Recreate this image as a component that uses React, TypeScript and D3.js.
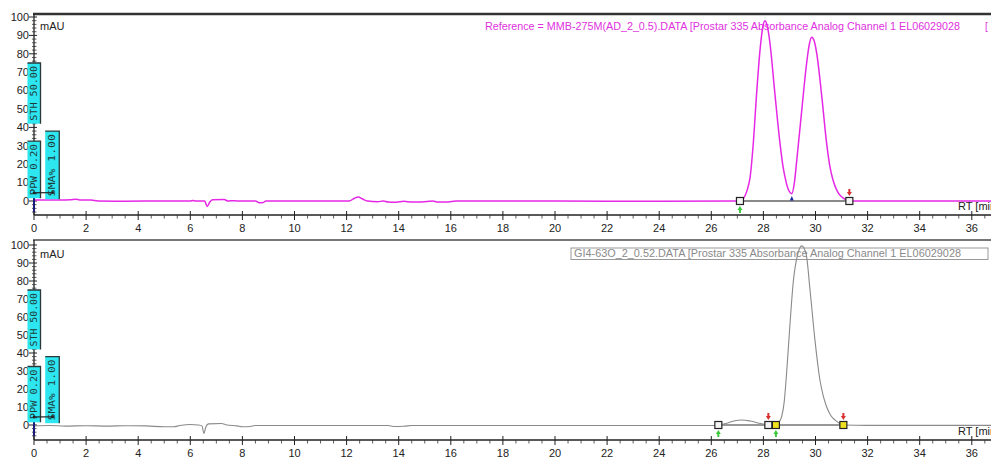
import React from "react";
import * as d3 from "d3";

// ---- data ----
const xTickValues = d3.range(0, 37, 2);
const yTickValues = d3.range(0, 101, 10);

// Top trace (reference sample), time [min] / absorbance [mAU]
const topTime = [0.0, 0.5, 1.0, 1.4, 1.6, 1.75, 2.2, 2.45, 3.5, 5.0, 6.0, 6.1, 6.2, 6.55, 6.65, 6.75, 6.85, 7.3, 7.45, 7.65, 7.8, 8.5, 8.65, 8.8, 8.9, 12.1, 12.3, 12.45, 12.6, 12.8, 13.2, 13.4, 13.6, 13.9, 14.2, 14.5, 14.9, 15.3, 15.5, 15.9, 16.2, 20, 24, 27.0, 27.17, 27.3, 27.4, 27.49, 27.61, 27.74, 27.87, 27.97, 28.06, 28.15, 28.25, 28.44, 28.64, 28.75, 28.83, 28.95, 29.09, 29.18, 29.28, 29.47, 29.66, 29.76, 29.85, 29.95, 30.05, 30.24, 30.43, 30.55, 30.68, 30.85, 31.0, 31.15, 31.32, 33, 36.9];
const topValue = [0.5, 0.6, 0.6, 0.7, 1.0, 0.6, 0.5, 0, -0.1, 0, 0, 0.3, 0, 0, -3, -0.5, 0.7, 0.8, 0, 0.2, 0, 0, -1, -0.8, 0, 0, 1.5, 2.2, 1.2, 0, -0.4, 0, -0.6, -0.7, -0.2, -0.6, -0.5, 0, -0.6, -0.5, 0, 0, -0.2, 0, 0.5, 3, 7, 13, 31, 58.5, 82, 94, 98, 95, 86, 58.5, 31, 19, 13, 6.5, 4, 9, 22, 49, 75, 85, 89, 87, 80, 57, 31, 19, 11, 5, 2.3, 0.8, 0, 0, 0];

// Bottom trace (sample GI4-63O)
const bottomTime = [0.0, 0.6, 1.2, 2.0, 2.8, 3.5, 4.3, 5.0, 5.35, 5.6, 6.0, 6.3, 6.45, 6.52, 6.6, 6.7, 7.2, 7.4, 7.8, 8.0, 8.3, 8.5, 9.5, 11, 13.6, 13.8, 14.2, 14.5, 20, 26.0, 26.27, 26.6, 26.9, 27.17, 27.5, 27.9, 28.19, 28.48, 28.6, 28.7, 28.8, 28.89, 29.02, 29.15, 29.32, 29.47, 29.64, 29.79, 29.98, 30.17, 30.3, 30.43, 30.6, 30.75, 31.07, 32, 36.9];
const bottomValue = [-0.5, -0.3, -0.6, -0.4, -0.6, -0.4, -0.5, -1, -1, -0.3, 0.3, 0, -0.5, -4.6, -1, 0.6, 0.8, 0, -0.5, -1, -0.8, -0.3, -0.3, -0.3, -0.3, -0.8, -0.7, -0.3, -0.3, -0.3, 0, 1, 2.4, 2.8, 2.2, 0.8, 0, 0, 1.5, 4.6, 13, 28.7, 56, 80, 95, 99.5, 95, 75, 47, 25, 16, 10, 5, 2.8, 0, -0.2, -0.2];

// integration events
const topSquares = [27.1, 31.3];
const topSquareYellow = [false, false];
const topStarts = [27.1];
const topEnds = [31.3];
const topValleys = [29.09];
const topBaselines = [[27.1, 31.3]];

const bottomSquares = [26.27, 28.19, 28.48, 31.07];
const bottomSquareYellow = [false, false, true, true];
const bottomStarts = [26.27, 28.48];
const bottomEnds = [28.19, 31.07];
const bottomValleys: number[] = [];
const bottomBaselines = [[26.27, 28.19], [28.48, 31.07]];

// method parameter flags (label, time from, time to, mAU from, mAU to)
const flagLabels = ["STH 50.00", "PPW 0.20", "SMA% 1.00"];
const flagTime = [[-0.25, 0.25], [-0.25, 0.25], [0.43, 0.97]];
const flagValue = [[42, 75], [1.5, 32.5], [1, 38]];

const topLegend = "Reference = MMB-275M(AD_2_0.5).DATA [Prostar 335 Absorbance Analog Channel 1 EL06029028";
const bottomLegend = "GI4-63O_2_0.52.DATA [Prostar 335 Absorbance Analog Channel 1 EL06029028";

const W = 991;
const H = 459;
const FONT = "'Liberation Sans', Arial, sans-serif";

const x = d3.scaleLinear().domain([0, 36]).range([34, 971.8]);

type PanelProps = {
  y: d3.ScaleLinear<number, number>;
  axisY: number;
  frameY: number;
  frameColor: string;
  frameWidth: number;
  times: number[];
  values: number[];
  color: string;
  lineWidth: number;
  legend: string;
  legendColor: string;
  legendX: number;
  legendW: number;
  legendY: number;
  legendBox: boolean;
  squares: number[];
  yellow: boolean[];
  starts: number[];
  ends: number[];
  valleys: number[];
  baselines: number[][];
  baselineColor: string;
  baselineWidth: number;
};

function Panel(p: PanelProps) {
  const { y } = p;
  const line = d3
    .line<number>()
    .x((_, i) => x(p.times[i]))
    .y((_, i) => y(p.values[i]))
    .curve(d3.curveMonotoneX);
  const pathD = line(p.values) || "";
  const xMinor = d3.range(0, 37, 0.5).filter((t) => t % 2 !== 0);
  const yMinor = d3.range(-6, 101, 2).filter((v) => v % 10 !== 0);
  const yBottom = y.invert(p.axisY);
  const y0 = y(0);
  return (
    <g>
      {/* frame top */}
      <line x1={33} x2={W} y1={p.frameY} y2={p.frameY} stroke={p.frameColor} strokeWidth={p.frameWidth} />
      {/* y axis */}
      <line x1={x(0)} x2={x(0)} y1={p.frameY} y2={p.axisY} stroke="#222" strokeWidth={1.3} />
      {yTickValues.map((v) => (
        <g key={"yt" + v}>
          <line x1={x(0) - 5} x2={x(0) + 3} y1={y(v)} y2={y(v)} stroke="#222" strokeWidth={1} />
          <text x={29} y={y(v) + 3.8} textAnchor="end" fontFamily={FONT} fontSize={11} fill="#222">
            {v}
          </text>
        </g>
      ))}
      {yMinor.filter((v) => v > yBottom).map((v) => (
        <line key={"ym" + v} x1={x(0) - 2} x2={x(0) + 2.5} y1={y(v)} y2={y(v)} stroke="#333" strokeWidth={0.8} />
      ))}
      <text x={40} y={y(100) + 13} fontFamily={FONT} fontSize={11} fill="#222">mAU</text>
      {/* x axis */}
      <line x1={x(0)} x2={W} y1={p.axisY} y2={p.axisY} stroke="#222" strokeWidth={1.3} />
      {xTickValues.map((t) => (
        <g key={"xt" + t}>
          <line x1={x(t)} x2={x(t)} y1={p.axisY - 4} y2={p.axisY + 5} stroke="#222" strokeWidth={1} />
          <text x={x(t)} y={p.axisY + 17} textAnchor="middle" fontFamily={FONT} fontSize={11} fill="#222">
            {t}
          </text>
        </g>
      ))}
      {xMinor.map((t) => (
        <line key={"xm" + t} x1={x(t)} x2={x(t)} y1={p.axisY} y2={p.axisY + 3.5} stroke="#333" strokeWidth={0.8} />
      ))}
      <text x={958} y={p.axisY - 5} fontFamily={FONT} fontSize={11} fill="#222">RT [min]</text>
      {/* legend */}
      {p.legendBox && (
        <rect x={p.legendX - 3} y={p.legendY - 9} width={W - p.legendX} height={11.5} fill="#fff" stroke="#999" strokeWidth={1} />
      )}
      <text
        x={p.legendX}
        y={p.legendY}
        fontFamily={FONT}
        fontSize={10}
        fill={p.legendColor}
        textLength={p.legendW}
        lengthAdjust="spacingAndGlyphs"
      >
        {p.legend}
      </text>
      {!p.legendBox && (
        <text x={985} y={p.legendY} fontFamily={FONT} fontSize={10} fill={p.legendColor}>[</text>
      )}
      {/* baselines */}
      {p.baselines.map((b, i) => (
        <line key={"bl" + i} x1={x(b[0])} x2={x(b[1])} y1={y0} y2={y0} stroke={p.baselineColor} strokeWidth={p.baselineWidth} />
      ))}
      {/* trace */}
      <path d={pathD} fill="none" stroke={p.color} strokeWidth={p.lineWidth} strokeLinejoin="round" />
      {/* start stroke */}
      <line x1={x(0)} x2={x(0)} y1={y(2)} y2={y(-6)} stroke="#1a1a7a" strokeWidth={2} />
      {/* markers */}
      {p.starts.map((t, i) => (
        <path
          key={"st" + i}
          d={`M${x(t)},${y0 + 5} L${x(t) + 2.5},${y0 + 9} L${x(t) + 1},${y0 + 9} L${x(t) + 1},${y0 + 12} L${x(t) - 1},${y0 + 12} L${x(t) - 1},${y0 + 9} L${x(t) - 2.5},${y0 + 9} Z`}
          fill="#3cc83c"
        />
      ))}
      {p.ends.map((t, i) => (
        <path
          key={"en" + i}
          d={`M${x(t)},${y0 - 5} L${x(t) + 2.5},${y0 - 9} L${x(t) + 1},${y0 - 9} L${x(t) + 1},${y0 - 12} L${x(t) - 1},${y0 - 12} L${x(t) - 1},${y0 - 9} L${x(t) - 2.5},${y0 - 9} Z`}
          fill="#d83030"
        />
      ))}
      {p.valleys.map((t, i) => (
        <path
          key={"va" + i}
          d={`M${x(t)},${y0 - 5} L${x(t) + 2},${y0 - 0.5} L${x(t) - 2},${y0 - 0.5} Z`}
          fill="#1a2a9a"
        />
      ))}
      {p.squares.map((t, i) => (
        <rect
          key={"sq" + i}
          x={x(t) - 3.5}
          y={y0 - 3.5}
          width={7}
          height={7}
          fill={p.yellow[i] ? "#f0e020" : "#f4f4f4"}
          stroke="#222"
          strokeWidth={1.2}
        />
      ))}
      {/* method flags */}
      {flagLabels.map((lab, i) => {
        const x0 = x(flagTime[i][0]);
        const x1 = x(flagTime[i][1]);
        const yt = y(flagValue[i][1]);
        const yb = y(flagValue[i][0]);
        const cx = (x0 + x1) / 2;
        const cy = (yt + yb) / 2;
        return (
          <g key={"fl" + i}>
            <rect x={x0} y={yt} width={x1 - x0} height={yb - yt} fill="#2ee6f0" />
            <path d={`M${x0},${yt} L${x1},${yt} L${x1},${yb}`} fill="none" stroke="#2a3a3a" strokeWidth={1.3} />
            <text
              x={cx}
              y={cy}
              transform={`rotate(-90 ${cx} ${cy})`}
              textAnchor="middle"
              dominantBaseline="central"
              fontFamily="'DejaVu Sans Mono', monospace"
              fontSize={9}
              fill="#1d3b3b"
              textLength={(yb - yt) - 6}
              lengthAdjust="spacingAndGlyphs"
            >
              {lab}
            </text>
          </g>
        );
      })}
      {/* PPW bracket */}
      <line x1={x(0)} x2={x(0.72)} y1={y(4.5)} y2={y(4.5)} stroke="#222" strokeWidth={1.2} />
      <circle cx={x(0)} cy={y(4.5)} r={1.3} fill="#222" />
      <circle cx={x(0.72)} cy={y(4.5)} r={1.3} fill="#222" />
    </g>
  );
}

export default function App() {
  const yTop = d3.scaleLinear().domain([0, 100]).range([201, 17]);
  const yBot = d3.scaleLinear().domain([0, 100]).range([425, 245]);
  return (
    <svg
      width={W}
      height={H}
      viewBox={`0 0 ${W} ${H}`}
      style={{ position: "absolute", left: 0, top: 0, background: "#fff" }}
    >
      <rect x={0} y={0} width={W} height={H} fill="#fff" />
      <Panel
        y={yTop}
        axisY={215}
        frameY={14}
        frameColor="#333"
        frameWidth={2.5}
        times={topTime}
        values={topValue}
        color="#e628e6"
        lineWidth={1.5}
        legend={topLegend}
        legendColor="#e030e0"
        legendX={485}
        legendW={475}
        legendY={29.5}
        legendBox={false}
        squares={topSquares}
        yellow={topSquareYellow}
        starts={topStarts}
        ends={topEnds}
        valleys={topValleys}
        baselines={topBaselines}
        baselineColor="#8a8a8a"
        baselineWidth={2}
      />
      <Panel
        y={yBot}
        axisY={440}
        frameY={240}
        frameColor="#777"
        frameWidth={2}
        times={bottomTime}
        values={bottomValue}
        color="#8a8a8a"
        lineWidth={1.1}
        legend={bottomLegend}
        legendColor="#8a8a8a"
        legendX={574}
        legendW={387}
        legendY={257}
        legendBox={true}
        squares={bottomSquares}
        yellow={bottomSquareYellow}
        starts={bottomStarts}
        ends={bottomEnds}
        valleys={bottomValleys}
        baselines={bottomBaselines}
        baselineColor="#333"
        baselineWidth={1.2}
      />
    </svg>
  );
}
